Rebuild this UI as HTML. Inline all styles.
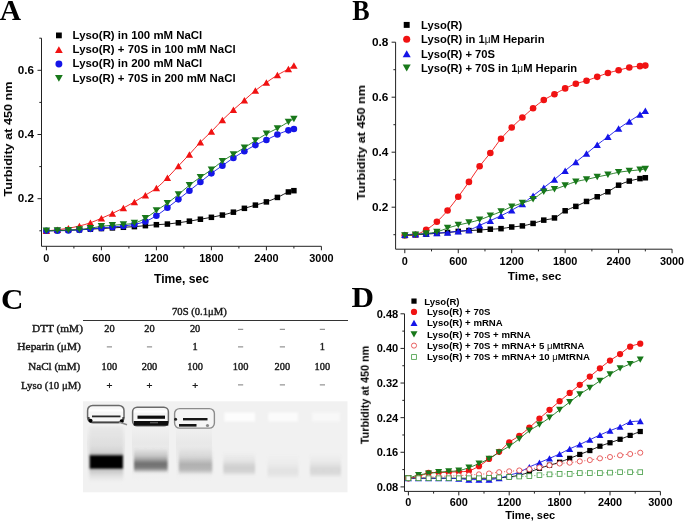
<!DOCTYPE html>
<html><head><meta charset="utf-8"><title>Figure</title>
<style>
html,body{margin:0;padding:0;background:#fff;}
body{width:685px;height:521px;overflow:hidden;font-family:"Liberation Sans", sans-serif;}
svg{display:block;}
text{will-change:transform;}
</style></head><body>
<svg width="685" height="521" viewBox="0 0 685 521">
<rect width="100%" height="100%" fill="#fff"/>
<g stroke="#222" stroke-width="1" fill="none">
<path d="M41.5,38.2V246.3H321.4"/>
<path d="M39.3,230.8H41.5"/>
<path d="M37.5,198.7H41.5"/>
<path d="M39.3,166.6H41.5"/>
<path d="M37.5,134.5H41.5"/>
<path d="M39.3,102.4H41.5"/>
<path d="M37.5,70.3H41.5"/>
<path d="M39.3,38.2H41.5"/>
<path d="M46.4,246.3V250.3"/>
<path d="M73.9,246.3V248.5"/>
<path d="M101.4,246.3V250.3"/>
<path d="M128.9,246.3V248.5"/>
<path d="M156.4,246.3V250.3"/>
<path d="M183.9,246.3V248.5"/>
<path d="M211.4,246.3V250.3"/>
<path d="M238.9,246.3V248.5"/>
<path d="M266.4,246.3V250.3"/>
<path d="M293.9,246.3V248.5"/>
<path d="M321.4,246.3V250.3"/>
</g>
<text x="34.1" y="202.3" font-size="11.7" font-weight="bold" font-family='"Liberation Sans", sans-serif' text-anchor="end" fill="#000" >0.2</text>
<text x="34.1" y="138.1" font-size="11.7" font-weight="bold" font-family='"Liberation Sans", sans-serif' text-anchor="end" fill="#000" >0.4</text>
<text x="34.1" y="73.9" font-size="11.7" font-weight="bold" font-family='"Liberation Sans", sans-serif' text-anchor="end" fill="#000" >0.6</text>
<text x="46.4" y="262.1" font-size="10.9" font-weight="bold" font-family='"Liberation Sans", sans-serif' text-anchor="middle" fill="#000" >0</text>
<text x="101.4" y="262.1" font-size="10.9" font-weight="bold" font-family='"Liberation Sans", sans-serif' text-anchor="middle" fill="#000" >600</text>
<text x="156.4" y="262.1" font-size="10.9" font-weight="bold" font-family='"Liberation Sans", sans-serif' text-anchor="middle" fill="#000" >1200</text>
<text x="211.4" y="262.1" font-size="10.9" font-weight="bold" font-family='"Liberation Sans", sans-serif' text-anchor="middle" fill="#000" >1800</text>
<text x="266.4" y="262.1" font-size="10.9" font-weight="bold" font-family='"Liberation Sans", sans-serif' text-anchor="middle" fill="#000" >2400</text>
<text x="321.4" y="262.1" font-size="10.9" font-weight="bold" font-family='"Liberation Sans", sans-serif' text-anchor="middle" fill="#000" >3000</text>
<text x="181.5" y="282.8" font-size="12.1" font-weight="bold" font-family='"Liberation Sans", sans-serif' text-anchor="middle" fill="#000" >Time, sec</text>
<text x="0" y="0" font-size="11" font-weight="bold" font-family='"Liberation Sans", sans-serif' text-anchor="middle" fill="#000" transform="translate(12.0,139.05) rotate(-90)" textLength="115.2" lengthAdjust="spacingAndGlyphs">Turbidity at 450 nm</text>
<text x="-0.3" y="19.6" font-size="29.5" font-weight="bold" font-family='"Liberation Serif", serif' text-anchor="start" fill="#000" >A</text>
<path d="M46.4,230.8C48.23,230.75 53.73,230.59 57.4,230.48C61.07,230.37 64.73,230.27 68.4,230.16C72.07,230.05 75.73,230 79.4,229.84C83.07,229.68 86.73,229.41 90.4,229.19C94.07,228.98 97.73,228.77 101.4,228.55C105.07,228.34 108.73,228.12 112.4,227.91C116.07,227.7 119.73,227.48 123.4,227.27C127.07,227.06 130.73,226.89 134.4,226.63C138.07,226.36 141.73,225.98 145.4,225.66C149.07,225.34 152.73,224.97 156.4,224.7C160.07,224.43 163.73,224.38 167.4,224.06C171.07,223.74 174.73,223.26 178.4,222.77C182.07,222.29 185.73,221.76 189.4,221.17C193.07,220.58 196.73,219.89 200.4,219.24C204.07,218.6 207.73,218.01 211.4,217.32C215.07,216.62 218.73,215.93 222.4,215.07C226.07,214.21 229.73,213.31 233.4,212.18C237.07,211.06 240.73,209.51 244.4,208.33C248.07,207.15 251.73,206.19 255.4,205.12C259.07,204.05 262.73,203.19 266.4,201.91C270.07,200.63 273.73,199.07 277.4,197.42C281.07,195.76 285.65,193.08 288.4,191.96C291.15,190.84 292.98,190.89 293.9,190.68" fill="none" stroke="#000" stroke-width="0.9"/>
<rect x="43.65" y="228.05" width="5.5" height="5.5" fill="#000"/>
<rect x="54.65" y="227.73" width="5.5" height="5.5" fill="#000"/>
<rect x="65.65" y="227.41" width="5.5" height="5.5" fill="#000"/>
<rect x="76.65" y="227.09" width="5.5" height="5.5" fill="#000"/>
<rect x="87.65" y="226.44" width="5.5" height="5.5" fill="#000"/>
<rect x="98.65" y="225.8" width="5.5" height="5.5" fill="#000"/>
<rect x="109.65" y="225.16" width="5.5" height="5.5" fill="#000"/>
<rect x="120.65" y="224.52" width="5.5" height="5.5" fill="#000"/>
<rect x="131.65" y="223.88" width="5.5" height="5.5" fill="#000"/>
<rect x="142.65" y="222.91" width="5.5" height="5.5" fill="#000"/>
<rect x="153.65" y="221.95" width="5.5" height="5.5" fill="#000"/>
<rect x="164.65" y="221.31" width="5.5" height="5.5" fill="#000"/>
<rect x="175.65" y="220.02" width="5.5" height="5.5" fill="#000"/>
<rect x="186.65" y="218.42" width="5.5" height="5.5" fill="#000"/>
<rect x="197.65" y="216.49" width="5.5" height="5.5" fill="#000"/>
<rect x="208.65" y="214.57" width="5.5" height="5.5" fill="#000"/>
<rect x="219.65" y="212.32" width="5.5" height="5.5" fill="#000"/>
<rect x="230.65" y="209.43" width="5.5" height="5.5" fill="#000"/>
<rect x="241.65" y="205.58" width="5.5" height="5.5" fill="#000"/>
<rect x="252.65" y="202.37" width="5.5" height="5.5" fill="#000"/>
<rect x="263.65" y="199.16" width="5.5" height="5.5" fill="#000"/>
<rect x="274.65" y="194.67" width="5.5" height="5.5" fill="#000"/>
<rect x="285.65" y="189.21" width="5.5" height="5.5" fill="#000"/>
<rect x="291.15" y="187.93" width="5.5" height="5.5" fill="#000"/>
<path d="M46.4,230.8C48.23,230.64 53.73,230.26 57.4,229.84C61.07,229.41 64.73,228.87 68.4,228.23C72.07,227.59 75.73,226.89 79.4,225.99C83.07,225.08 86.73,224.06 90.4,222.77C94.07,221.49 97.73,219.83 101.4,218.28C105.07,216.73 108.73,215.18 112.4,213.47C116.07,211.75 119.73,209.93 123.4,208.01C127.07,206.08 130.73,204.05 134.4,201.91C138.07,199.77 141.73,197.47 145.4,195.17C149.07,192.87 152.73,191 156.4,188.11C160.07,185.22 163.73,181.53 167.4,177.83C171.07,174.14 174.73,169.86 178.4,165.96C182.07,162.05 185.73,158.36 189.4,154.4C193.07,150.44 196.73,146 200.4,142.2C204.07,138.41 207.73,135.3 211.4,131.61C215.07,127.92 218.73,123.69 222.4,120.05C226.07,116.42 229.73,113.1 233.4,109.78C237.07,106.47 240.73,103.36 244.4,100.15C248.07,96.94 251.73,93.47 255.4,90.52C259.07,87.58 262.73,85.07 266.4,82.5C270.07,79.93 273.73,77.36 277.4,75.11C281.07,72.87 285.65,70.62 288.4,69.02C291.15,67.41 292.98,66.07 293.9,65.48" fill="none" stroke="#f01212" stroke-width="0.9"/>
<path d="M46.4,227.55L50.1,234.05L42.7,234.05Z" fill="#f01212"/>
<path d="M57.4,226.59L61.1,233.09L53.7,233.09Z" fill="#f01212"/>
<path d="M68.4,224.98L72.1,231.48L64.7,231.48Z" fill="#f01212"/>
<path d="M79.4,222.74L83.1,229.24L75.7,229.24Z" fill="#f01212"/>
<path d="M90.4,219.52L94.1,226.02L86.7,226.02Z" fill="#f01212"/>
<path d="M101.4,215.03L105.1,221.53L97.7,221.53Z" fill="#f01212"/>
<path d="M112.4,210.22L116.1,216.72L108.7,216.72Z" fill="#f01212"/>
<path d="M123.4,204.76L127.1,211.26L119.7,211.26Z" fill="#f01212"/>
<path d="M134.4,198.66L138.1,205.16L130.7,205.16Z" fill="#f01212"/>
<path d="M145.4,191.92L149.1,198.42L141.7,198.42Z" fill="#f01212"/>
<path d="M156.4,184.86L160.1,191.36L152.7,191.36Z" fill="#f01212"/>
<path d="M167.4,174.58L171.1,181.08L163.7,181.08Z" fill="#f01212"/>
<path d="M178.4,162.71L182.1,169.21L174.7,169.21Z" fill="#f01212"/>
<path d="M189.4,151.15L193.1,157.65L185.7,157.65Z" fill="#f01212"/>
<path d="M200.4,138.95L204.1,145.45L196.7,145.45Z" fill="#f01212"/>
<path d="M211.4,128.36L215.1,134.86L207.7,134.86Z" fill="#f01212"/>
<path d="M222.4,116.8L226.1,123.3L218.7,123.3Z" fill="#f01212"/>
<path d="M233.4,106.53L237.1,113.03L229.7,113.03Z" fill="#f01212"/>
<path d="M244.4,96.9L248.1,103.4L240.7,103.4Z" fill="#f01212"/>
<path d="M255.4,87.27L259.1,93.77L251.7,93.77Z" fill="#f01212"/>
<path d="M266.4,79.25L270.1,85.75L262.7,85.75Z" fill="#f01212"/>
<path d="M277.4,71.86L281.1,78.36L273.7,78.36Z" fill="#f01212"/>
<path d="M288.4,65.77L292.1,72.27L284.7,72.27Z" fill="#f01212"/>
<path d="M293.9,62.23L297.6,68.73L290.2,68.73Z" fill="#f01212"/>
<path d="M46.4,230.8C48.23,230.8 53.73,230.85 57.4,230.8C61.07,230.75 64.73,230.64 68.4,230.48C72.07,230.32 75.73,230.1 79.4,229.84C83.07,229.57 86.73,229.2 90.4,228.87C94.07,228.55 97.73,228.23 101.4,227.91C105.07,227.59 108.73,227.27 112.4,226.95C116.07,226.63 119.73,226.41 123.4,225.99C127.07,225.56 130.73,225.13 134.4,224.38C138.07,223.63 141.73,222.94 145.4,221.49C149.07,220.05 152.73,218.01 156.4,215.71C160.07,213.41 163.73,210.42 167.4,207.69C171.07,204.96 174.73,202.18 178.4,199.34C182.07,196.51 185.73,193.56 189.4,190.68C193.07,187.79 196.73,184.9 200.4,182.01C204.07,179.12 207.73,176.07 211.4,173.34C215.07,170.61 218.73,168.2 222.4,165.64C226.07,163.07 229.73,160.34 233.4,157.93C237.07,155.53 240.73,153.33 244.4,151.19C248.07,149.05 251.73,146.97 255.4,145.09C259.07,143.22 262.73,141.72 266.4,139.96C270.07,138.19 273.73,136.1 277.4,134.5C281.07,132.9 285.65,131.24 288.4,130.33C291.15,129.42 292.98,129.26 293.9,129.04" fill="none" stroke="#1515e8" stroke-width="0.9"/>
<circle cx="46.4" cy="230.8" r="3.3" fill="#1515e8"/>
<circle cx="57.4" cy="230.8" r="3.3" fill="#1515e8"/>
<circle cx="68.4" cy="230.48" r="3.3" fill="#1515e8"/>
<circle cx="79.4" cy="229.84" r="3.3" fill="#1515e8"/>
<circle cx="90.4" cy="228.87" r="3.3" fill="#1515e8"/>
<circle cx="101.4" cy="227.91" r="3.3" fill="#1515e8"/>
<circle cx="112.4" cy="226.95" r="3.3" fill="#1515e8"/>
<circle cx="123.4" cy="225.99" r="3.3" fill="#1515e8"/>
<circle cx="134.4" cy="224.38" r="3.3" fill="#1515e8"/>
<circle cx="145.4" cy="221.49" r="3.3" fill="#1515e8"/>
<circle cx="156.4" cy="215.71" r="3.3" fill="#1515e8"/>
<circle cx="167.4" cy="207.69" r="3.3" fill="#1515e8"/>
<circle cx="178.4" cy="199.34" r="3.3" fill="#1515e8"/>
<circle cx="189.4" cy="190.68" r="3.3" fill="#1515e8"/>
<circle cx="200.4" cy="182.01" r="3.3" fill="#1515e8"/>
<circle cx="211.4" cy="173.34" r="3.3" fill="#1515e8"/>
<circle cx="222.4" cy="165.64" r="3.3" fill="#1515e8"/>
<circle cx="233.4" cy="157.93" r="3.3" fill="#1515e8"/>
<circle cx="244.4" cy="151.19" r="3.3" fill="#1515e8"/>
<circle cx="255.4" cy="145.09" r="3.3" fill="#1515e8"/>
<circle cx="266.4" cy="139.96" r="3.3" fill="#1515e8"/>
<circle cx="277.4" cy="134.5" r="3.3" fill="#1515e8"/>
<circle cx="288.4" cy="130.33" r="3.3" fill="#1515e8"/>
<circle cx="293.9" cy="129.04" r="3.3" fill="#1515e8"/>
<path d="M46.4,230.8C48.23,230.75 53.73,230.59 57.4,230.48C61.07,230.37 64.73,230.32 68.4,230.16C72.07,230 75.73,229.84 79.4,229.52C83.07,229.2 86.73,228.77 90.4,228.23C94.07,227.7 97.73,226.79 101.4,226.31C105.07,225.82 108.73,225.66 112.4,225.34C116.07,225.02 119.73,224.75 123.4,224.38C127.07,224.01 130.73,224.11 134.4,223.1C138.07,222.08 141.73,220.37 145.4,218.28C149.07,216.19 152.73,213.09 156.4,210.58C160.07,208.06 163.73,205.87 167.4,203.19C171.07,200.52 174.73,197.52 178.4,194.53C182.07,191.53 185.73,188.11 189.4,185.22C193.07,182.33 196.73,179.76 200.4,177.19C204.07,174.62 207.73,172.49 211.4,169.81C215.07,167.13 218.73,163.71 222.4,161.14C226.07,158.57 229.73,156.65 233.4,154.4C237.07,152.16 240.73,149.96 244.4,147.66C248.07,145.36 251.73,142.9 255.4,140.6C259.07,138.3 262.73,135.89 266.4,133.86C270.07,131.82 273.73,130.38 277.4,128.4C281.07,126.42 285.65,123.53 288.4,121.98C291.15,120.43 292.98,119.57 293.9,119.09" fill="none" stroke="#18781a" stroke-width="0.9"/>
<path d="M42.7,227.55L50.1,227.55L46.4,234.05Z" fill="#18781a"/>
<path d="M53.7,227.23L61.1,227.23L57.4,233.73Z" fill="#18781a"/>
<path d="M64.7,226.91L72.1,226.91L68.4,233.41Z" fill="#18781a"/>
<path d="M75.7,226.27L83.1,226.27L79.4,232.77Z" fill="#18781a"/>
<path d="M86.7,224.98L94.1,224.98L90.4,231.48Z" fill="#18781a"/>
<path d="M97.7,223.06L105.1,223.06L101.4,229.56Z" fill="#18781a"/>
<path d="M108.7,222.09L116.1,222.09L112.4,228.59Z" fill="#18781a"/>
<path d="M119.7,221.13L127.1,221.13L123.4,227.63Z" fill="#18781a"/>
<path d="M130.7,219.85L138.1,219.85L134.4,226.35Z" fill="#18781a"/>
<path d="M141.7,215.03L149.1,215.03L145.4,221.53Z" fill="#18781a"/>
<path d="M152.7,207.33L160.1,207.33L156.4,213.83Z" fill="#18781a"/>
<path d="M163.7,199.94L171.1,199.94L167.4,206.44Z" fill="#18781a"/>
<path d="M174.7,191.28L182.1,191.28L178.4,197.78Z" fill="#18781a"/>
<path d="M185.7,181.97L193.1,181.97L189.4,188.47Z" fill="#18781a"/>
<path d="M196.7,173.94L204.1,173.94L200.4,180.44Z" fill="#18781a"/>
<path d="M207.7,166.56L215.1,166.56L211.4,173.06Z" fill="#18781a"/>
<path d="M218.7,157.89L226.1,157.89L222.4,164.39Z" fill="#18781a"/>
<path d="M229.7,151.15L237.1,151.15L233.4,157.65Z" fill="#18781a"/>
<path d="M240.7,144.41L248.1,144.41L244.4,150.91Z" fill="#18781a"/>
<path d="M251.7,137.35L259.1,137.35L255.4,143.85Z" fill="#18781a"/>
<path d="M262.7,130.61L270.1,130.61L266.4,137.11Z" fill="#18781a"/>
<path d="M273.7,125.15L281.1,125.15L277.4,131.65Z" fill="#18781a"/>
<path d="M284.7,118.73L292.1,118.73L288.4,125.23Z" fill="#18781a"/>
<path d="M290.2,115.84L297.6,115.84L293.9,122.34Z" fill="#18781a"/>
<rect x="56.01" y="32.51" width="5.78" height="5.78" fill="#000"/>
<text x="72.6" y="38.6" font-size="10.6" font-weight="bold" font-family='"Liberation Sans", sans-serif' text-anchor="start" fill="#000" textLength="129.66" lengthAdjust="spacingAndGlyphs">Lyso(R) in 100 mM NaCl</text>
<path d="M58.9,46.29L62.78,53.11L55.02,53.11Z" fill="#f01212"/>
<text x="72.6" y="52.9" font-size="10.6" font-weight="bold" font-family='"Liberation Sans", sans-serif' text-anchor="start" fill="#000" textLength="162.99" lengthAdjust="spacingAndGlyphs">Lyso(R) + 70S in 100 mM NaCl</text>
<circle cx="58.9" cy="64" r="3.46" fill="#1515e8"/>
<text x="72.6" y="67.2" font-size="10.6" font-weight="bold" font-family='"Liberation Sans", sans-serif' text-anchor="start" fill="#000" textLength="129.66" lengthAdjust="spacingAndGlyphs">Lyso(R) in 200 mM NaCl</text>
<path d="M55.02,74.89L62.78,74.89L58.9,81.71Z" fill="#18781a"/>
<text x="72.6" y="81.5" font-size="10.6" font-weight="bold" font-family='"Liberation Sans", sans-serif' text-anchor="start" fill="#000" textLength="162.99" lengthAdjust="spacingAndGlyphs">Lyso(R) + 70S in 200 mM NaCl</text>
<g stroke="#222" stroke-width="1" fill="none">
<path d="M395.6,42.2V249.2H672.05"/>
<path d="M393.4,234.7H395.6"/>
<path d="M391.6,207.2H395.6"/>
<path d="M393.4,179.7H395.6"/>
<path d="M391.6,152.2H395.6"/>
<path d="M393.4,124.7H395.6"/>
<path d="M391.6,97.2H395.6"/>
<path d="M393.4,69.7H395.6"/>
<path d="M391.6,42.2H395.6"/>
<path d="M404.8,249.2V253.2"/>
<path d="M431.53,249.2V251.4"/>
<path d="M458.25,249.2V253.2"/>
<path d="M484.98,249.2V251.4"/>
<path d="M511.7,249.2V253.2"/>
<path d="M538.42,249.2V251.4"/>
<path d="M565.15,249.2V253.2"/>
<path d="M591.88,249.2V251.4"/>
<path d="M618.6,249.2V253.2"/>
<path d="M645.33,249.2V251.4"/>
<path d="M672.05,249.2V253.2"/>
</g>
<text x="388.3" y="210.7" font-size="11.8" font-weight="bold" font-family='"Liberation Sans", sans-serif' text-anchor="end" fill="#000" >0.2</text>
<text x="388.3" y="155.7" font-size="11.8" font-weight="bold" font-family='"Liberation Sans", sans-serif' text-anchor="end" fill="#000" >0.4</text>
<text x="388.3" y="100.7" font-size="11.8" font-weight="bold" font-family='"Liberation Sans", sans-serif' text-anchor="end" fill="#000" >0.6</text>
<text x="388.3" y="45.7" font-size="11.8" font-weight="bold" font-family='"Liberation Sans", sans-serif' text-anchor="end" fill="#000" >0.8</text>
<text x="404.8" y="264.9" font-size="10.9" font-weight="bold" font-family='"Liberation Sans", sans-serif' text-anchor="middle" fill="#000" >0</text>
<text x="458.25" y="264.9" font-size="10.9" font-weight="bold" font-family='"Liberation Sans", sans-serif' text-anchor="middle" fill="#000" >600</text>
<text x="511.7" y="264.9" font-size="10.9" font-weight="bold" font-family='"Liberation Sans", sans-serif' text-anchor="middle" fill="#000" >1200</text>
<text x="565.15" y="264.9" font-size="10.9" font-weight="bold" font-family='"Liberation Sans", sans-serif' text-anchor="middle" fill="#000" >1800</text>
<text x="618.6" y="264.9" font-size="10.9" font-weight="bold" font-family='"Liberation Sans", sans-serif' text-anchor="middle" fill="#000" >2400</text>
<text x="672.05" y="264.9" font-size="10.9" font-weight="bold" font-family='"Liberation Sans", sans-serif' text-anchor="middle" fill="#000" >3000</text>
<text x="534.6" y="280.2" font-size="11.8" font-weight="bold" font-family='"Liberation Sans", sans-serif' text-anchor="middle" fill="#000" >Time, sec</text>
<text x="0" y="0" font-size="11" font-weight="bold" font-family='"Liberation Sans", sans-serif' text-anchor="middle" fill="#000" transform="translate(365.0,142.5) rotate(-90)" textLength="115" lengthAdjust="spacingAndGlyphs">Turbidity at 450 nm</text>
<text x="0" y="0" font-size="30" font-weight="bold" font-family='"Liberation Serif", serif' text-anchor="start" fill="#000" transform="translate(352.3,19.8) scale(0.87,1)">B</text>
<path d="M404.8,235.53C406.58,235.39 411.93,234.93 415.49,234.7C419.05,234.47 422.62,234.38 426.18,234.15C429.74,233.92 433.31,233.6 436.87,233.33C440.43,233.05 444,232.82 447.56,232.5C451.12,232.18 454.69,231.72 458.25,231.4C461.81,231.08 465.38,230.8 468.94,230.58C472.5,230.35 476.07,230.25 479.63,230.03C483.19,229.8 486.76,229.43 490.32,229.2C493.88,228.97 497.45,229.02 501.01,228.65C504.57,228.28 508.14,227.46 511.7,227C515.26,226.54 518.83,226.5 522.39,225.9C525.95,225.3 529.52,224.39 533.08,223.43C536.64,222.46 540.21,221.04 543.77,220.12C547.33,219.21 550.9,219.48 554.46,217.93C558.02,216.37 561.59,212.7 565.15,210.77C568.71,208.85 572.28,207.93 575.84,206.38C579.4,204.82 582.97,203.03 586.53,201.43C590.09,199.82 593.66,198.35 597.22,196.75C600.78,195.15 604.35,193.73 607.91,191.8C611.47,189.88 615.04,186.99 618.6,185.2C622.16,183.41 625.73,182.18 629.29,181.08C632.85,179.98 637.31,179.15 639.98,178.6C642.65,178.05 644.43,177.91 645.33,177.78" fill="none" stroke="#000" stroke-width="0.9"/>
<rect x="402.05" y="232.78" width="5.5" height="5.5" fill="#000"/>
<rect x="412.74" y="231.95" width="5.5" height="5.5" fill="#000"/>
<rect x="423.43" y="231.4" width="5.5" height="5.5" fill="#000"/>
<rect x="434.12" y="230.58" width="5.5" height="5.5" fill="#000"/>
<rect x="444.81" y="229.75" width="5.5" height="5.5" fill="#000"/>
<rect x="455.5" y="228.65" width="5.5" height="5.5" fill="#000"/>
<rect x="466.19" y="227.83" width="5.5" height="5.5" fill="#000"/>
<rect x="476.88" y="227.28" width="5.5" height="5.5" fill="#000"/>
<rect x="487.57" y="226.45" width="5.5" height="5.5" fill="#000"/>
<rect x="498.26" y="225.9" width="5.5" height="5.5" fill="#000"/>
<rect x="508.95" y="224.25" width="5.5" height="5.5" fill="#000"/>
<rect x="519.64" y="223.15" width="5.5" height="5.5" fill="#000"/>
<rect x="530.33" y="220.68" width="5.5" height="5.5" fill="#000"/>
<rect x="541.02" y="217.38" width="5.5" height="5.5" fill="#000"/>
<rect x="551.71" y="215.18" width="5.5" height="5.5" fill="#000"/>
<rect x="562.4" y="208.02" width="5.5" height="5.5" fill="#000"/>
<rect x="573.09" y="203.62" width="5.5" height="5.5" fill="#000"/>
<rect x="583.78" y="198.68" width="5.5" height="5.5" fill="#000"/>
<rect x="594.47" y="194" width="5.5" height="5.5" fill="#000"/>
<rect x="605.16" y="189.05" width="5.5" height="5.5" fill="#000"/>
<rect x="615.85" y="182.45" width="5.5" height="5.5" fill="#000"/>
<rect x="626.54" y="178.33" width="5.5" height="5.5" fill="#000"/>
<rect x="637.23" y="175.85" width="5.5" height="5.5" fill="#000"/>
<rect x="642.58" y="175.03" width="5.5" height="5.5" fill="#000"/>
<path d="M404.8,235.25C406.58,235.16 411.93,235.62 415.49,234.7C419.05,233.78 422.62,231.9 426.18,229.75C429.74,227.6 433.31,224.98 436.87,221.78C440.43,218.57 444,214.67 447.56,210.5C451.12,206.33 454.69,201.52 458.25,196.75C461.81,191.98 465.38,186.99 468.94,181.9C472.5,176.81 476.07,171.04 479.63,166.23C483.19,161.41 486.76,157.61 490.32,153.03C493.88,148.44 497.45,142.99 501.01,138.73C504.57,134.46 508.14,130.98 511.7,127.45C515.26,123.92 518.83,120.76 522.39,117.55C525.95,114.34 529.52,111.13 533.08,108.2C536.64,105.27 540.21,102.29 543.77,99.95C547.33,97.61 550.9,96.1 554.46,94.18C558.02,92.25 561.59,90.14 565.15,88.4C568.71,86.66 572.28,85.01 575.84,83.73C579.4,82.44 582.97,81.85 586.53,80.7C590.09,79.55 593.66,78.13 597.22,76.85C600.78,75.57 604.35,74.1 607.91,73C611.47,71.9 615.04,71.17 618.6,70.25C622.16,69.33 625.73,68.19 629.29,67.5C632.85,66.81 637.31,66.45 639.98,66.13C642.65,65.8 644.43,65.67 645.33,65.58" fill="none" stroke="#f01212" stroke-width="0.9"/>
<circle cx="404.8" cy="235.25" r="3.3" fill="#f01212"/>
<circle cx="415.49" cy="234.7" r="3.3" fill="#f01212"/>
<circle cx="426.18" cy="229.75" r="3.3" fill="#f01212"/>
<circle cx="436.87" cy="221.78" r="3.3" fill="#f01212"/>
<circle cx="447.56" cy="210.5" r="3.3" fill="#f01212"/>
<circle cx="458.25" cy="196.75" r="3.3" fill="#f01212"/>
<circle cx="468.94" cy="181.9" r="3.3" fill="#f01212"/>
<circle cx="479.63" cy="166.23" r="3.3" fill="#f01212"/>
<circle cx="490.32" cy="153.03" r="3.3" fill="#f01212"/>
<circle cx="501.01" cy="138.73" r="3.3" fill="#f01212"/>
<circle cx="511.7" cy="127.45" r="3.3" fill="#f01212"/>
<circle cx="522.39" cy="117.55" r="3.3" fill="#f01212"/>
<circle cx="533.08" cy="108.2" r="3.3" fill="#f01212"/>
<circle cx="543.77" cy="99.95" r="3.3" fill="#f01212"/>
<circle cx="554.46" cy="94.18" r="3.3" fill="#f01212"/>
<circle cx="565.15" cy="88.4" r="3.3" fill="#f01212"/>
<circle cx="575.84" cy="83.73" r="3.3" fill="#f01212"/>
<circle cx="586.53" cy="80.7" r="3.3" fill="#f01212"/>
<circle cx="597.22" cy="76.85" r="3.3" fill="#f01212"/>
<circle cx="607.91" cy="73" r="3.3" fill="#f01212"/>
<circle cx="618.6" cy="70.25" r="3.3" fill="#f01212"/>
<circle cx="629.29" cy="67.5" r="3.3" fill="#f01212"/>
<circle cx="639.98" cy="66.13" r="3.3" fill="#f01212"/>
<circle cx="645.33" cy="65.58" r="3.3" fill="#f01212"/>
<path d="M404.8,234.7C406.58,234.61 411.93,234.33 415.49,234.15C419.05,233.97 422.62,233.78 426.18,233.6C429.74,233.42 433.31,233.23 436.87,233.05C440.43,232.87 444,232.82 447.56,232.5C451.12,232.18 454.69,231.54 458.25,231.12C461.81,230.71 465.38,230.99 468.94,230.03C472.5,229.06 476.07,226.91 479.63,225.35C483.19,223.79 486.76,222.28 490.32,220.68C493.88,219.07 497.45,217.47 501.01,215.73C504.57,213.98 508.14,212.2 511.7,210.23C515.26,208.25 518.83,206.33 522.39,203.9C525.95,201.47 529.52,198.35 533.08,195.65C536.64,192.95 540.21,190.38 543.77,187.68C547.33,184.97 550.9,182.27 554.46,179.43C558.02,176.58 561.59,173.51 565.15,170.62C568.71,167.74 572.28,164.94 575.84,162.1C579.4,159.26 582.97,156.46 586.53,153.58C590.09,150.69 593.66,147.57 597.22,144.78C600.78,141.98 604.35,139.5 607.91,136.8C611.47,134.1 615.04,131.12 618.6,128.55C622.16,125.98 625.73,123.74 629.29,121.4C632.85,119.06 637.31,116.31 639.98,114.53C642.65,112.74 644.43,111.32 645.33,110.67" fill="none" stroke="#1515e8" stroke-width="0.9"/>
<path d="M404.8,231.45L408.5,237.95L401.1,237.95Z" fill="#1515e8"/>
<path d="M415.49,230.9L419.19,237.4L411.79,237.4Z" fill="#1515e8"/>
<path d="M426.18,230.35L429.88,236.85L422.48,236.85Z" fill="#1515e8"/>
<path d="M436.87,229.8L440.57,236.3L433.17,236.3Z" fill="#1515e8"/>
<path d="M447.56,229.25L451.26,235.75L443.86,235.75Z" fill="#1515e8"/>
<path d="M458.25,227.88L461.95,234.38L454.55,234.38Z" fill="#1515e8"/>
<path d="M468.94,226.78L472.64,233.28L465.24,233.28Z" fill="#1515e8"/>
<path d="M479.63,222.1L483.33,228.6L475.93,228.6Z" fill="#1515e8"/>
<path d="M490.32,217.43L494.02,223.93L486.62,223.93Z" fill="#1515e8"/>
<path d="M501.01,212.48L504.71,218.98L497.31,218.98Z" fill="#1515e8"/>
<path d="M511.7,206.98L515.4,213.48L508,213.48Z" fill="#1515e8"/>
<path d="M522.39,200.65L526.09,207.15L518.69,207.15Z" fill="#1515e8"/>
<path d="M533.08,192.4L536.78,198.9L529.38,198.9Z" fill="#1515e8"/>
<path d="M543.77,184.43L547.47,190.93L540.07,190.93Z" fill="#1515e8"/>
<path d="M554.46,176.18L558.16,182.68L550.76,182.68Z" fill="#1515e8"/>
<path d="M565.15,167.38L568.85,173.88L561.45,173.88Z" fill="#1515e8"/>
<path d="M575.84,158.85L579.54,165.35L572.14,165.35Z" fill="#1515e8"/>
<path d="M586.53,150.33L590.23,156.83L582.83,156.83Z" fill="#1515e8"/>
<path d="M597.22,141.53L600.92,148.03L593.52,148.03Z" fill="#1515e8"/>
<path d="M607.91,133.55L611.61,140.05L604.21,140.05Z" fill="#1515e8"/>
<path d="M618.6,125.3L622.3,131.8L614.9,131.8Z" fill="#1515e8"/>
<path d="M629.29,118.15L632.99,124.65L625.59,124.65Z" fill="#1515e8"/>
<path d="M639.98,111.28L643.68,117.78L636.28,117.78Z" fill="#1515e8"/>
<path d="M645.33,107.42L649.03,113.92L641.62,113.92Z" fill="#1515e8"/>
<path d="M404.8,235.53C406.58,235.39 411.93,235.02 415.49,234.7C419.05,234.38 422.62,234.06 426.18,233.6C429.74,233.14 433.31,232.87 436.87,231.95C440.43,231.03 444,229.25 447.56,228.1C451.12,226.95 454.69,225.99 458.25,225.07C461.81,224.16 465.38,223.47 468.94,222.6C472.5,221.73 476.07,221 479.63,219.85C483.19,218.7 486.76,217.1 490.32,215.73C493.88,214.35 497.45,213.11 501.01,211.6C504.57,210.09 508.14,208.07 511.7,206.65C515.26,205.23 518.83,204.31 522.39,203.08C525.95,201.84 529.52,201.1 533.08,199.23C536.64,197.35 540.21,193.45 543.77,191.8C547.33,190.15 550.9,190.38 554.46,189.32C558.02,188.27 561.59,186.76 565.15,185.48C568.71,184.19 572.28,182.63 575.84,181.63C579.4,180.62 582.97,180.2 586.53,179.43C590.09,178.65 593.66,177.73 597.22,176.95C600.78,176.17 604.35,175.53 607.91,174.75C611.47,173.97 615.04,172.92 618.6,172.28C622.16,171.63 625.73,171.31 629.29,170.9C632.85,170.49 637.31,170.12 639.98,169.8C642.65,169.48 644.43,169.11 645.33,168.98" fill="none" stroke="#18781a" stroke-width="0.9"/>
<path d="M401.1,232.28L408.5,232.28L404.8,238.78Z" fill="#18781a"/>
<path d="M411.79,231.45L419.19,231.45L415.49,237.95Z" fill="#18781a"/>
<path d="M422.48,230.35L429.88,230.35L426.18,236.85Z" fill="#18781a"/>
<path d="M433.17,228.7L440.57,228.7L436.87,235.2Z" fill="#18781a"/>
<path d="M443.86,224.85L451.26,224.85L447.56,231.35Z" fill="#18781a"/>
<path d="M454.55,221.82L461.95,221.82L458.25,228.32Z" fill="#18781a"/>
<path d="M465.24,219.35L472.64,219.35L468.94,225.85Z" fill="#18781a"/>
<path d="M475.93,216.6L483.33,216.6L479.63,223.1Z" fill="#18781a"/>
<path d="M486.62,212.48L494.02,212.48L490.32,218.98Z" fill="#18781a"/>
<path d="M497.31,208.35L504.71,208.35L501.01,214.85Z" fill="#18781a"/>
<path d="M508,203.4L515.4,203.4L511.7,209.9Z" fill="#18781a"/>
<path d="M518.69,199.83L526.09,199.83L522.39,206.33Z" fill="#18781a"/>
<path d="M529.38,195.98L536.78,195.98L533.08,202.48Z" fill="#18781a"/>
<path d="M540.07,188.55L547.47,188.55L543.77,195.05Z" fill="#18781a"/>
<path d="M550.76,186.07L558.16,186.07L554.46,192.57Z" fill="#18781a"/>
<path d="M561.45,182.23L568.85,182.23L565.15,188.73Z" fill="#18781a"/>
<path d="M572.14,178.38L579.54,178.38L575.84,184.88Z" fill="#18781a"/>
<path d="M582.83,176.18L590.23,176.18L586.53,182.68Z" fill="#18781a"/>
<path d="M593.52,173.7L600.92,173.7L597.22,180.2Z" fill="#18781a"/>
<path d="M604.21,171.5L611.61,171.5L607.91,178Z" fill="#18781a"/>
<path d="M614.9,169.03L622.3,169.03L618.6,175.53Z" fill="#18781a"/>
<path d="M625.59,167.65L632.99,167.65L629.29,174.15Z" fill="#18781a"/>
<path d="M636.28,166.55L643.68,166.55L639.98,173.05Z" fill="#18781a"/>
<path d="M641.62,165.73L649.03,165.73L645.33,172.23Z" fill="#18781a"/>
<rect x="403.73" y="21.93" width="5.94" height="5.94" fill="#000"/>
<text x="421.1" y="28.7" font-size="11.2" font-weight="bold" font-family='"Liberation Sans", sans-serif' text-anchor="start" fill="#000" >Lyso(R)</text>
<circle cx="406.7" cy="39.3" r="3.56" fill="#f01212"/>
<text x="421.1" y="43.1" font-size="11.2" font-weight="bold" font-family='"Liberation Sans", sans-serif' text-anchor="start" fill="#000" >Lyso(R) in 1<tspan font-weight="normal" font-size="10">&#956;</tspan>M Heparin</text>
<path d="M406.7,50.19L410.7,57.21L402.7,57.21Z" fill="#1515e8"/>
<text x="421.1" y="57.5" font-size="11.2" font-weight="bold" font-family='"Liberation Sans", sans-serif' text-anchor="start" fill="#000" >Lyso(R) + 70S</text>
<path d="M402.7,64.59L410.7,64.59L406.7,71.61Z" fill="#18781a"/>
<text x="421.1" y="71.9" font-size="11.2" font-weight="bold" font-family='"Liberation Sans", sans-serif' text-anchor="start" fill="#000" >Lyso(R) + 70S in 1<tspan font-weight="normal" font-size="10">&#956;</tspan>M Heparin</text>
<text x="0" y="0" font-size="30.2" font-weight="bold" font-family='"Liberation Serif", serif' text-anchor="start" fill="#000" transform="translate(1.0,309) scale(1.03,1)">C</text>
<path d="M83,320.5H348" stroke="#333" stroke-width="1" fill="none"/>
<text x="172" y="314.8" font-size="10.4" font-weight="normal" font-family='"Liberation Serif", serif' text-anchor="start" fill="#1a1a1a" stroke="#1a1a1a" stroke-width="0.42" textLength="54.8" lengthAdjust="spacingAndGlyphs">70S (0.1&#956;M)</text>
<text x="82.9" y="331.9" font-size="10.6" font-weight="normal" font-family='"Liberation Serif", serif' text-anchor="end" fill="#1a1a1a" stroke="#1a1a1a" stroke-width="0.42" textLength="50.8" lengthAdjust="spacingAndGlyphs">DTT (mM)</text>
<text x="80.9" y="349.6" font-size="10.6" font-weight="normal" font-family='"Liberation Serif", serif' text-anchor="end" fill="#1a1a1a" stroke="#1a1a1a" stroke-width="0.42" textLength="63.6" lengthAdjust="spacingAndGlyphs">Heparin (&#956;M)</text>
<text x="80.3" y="369.8" font-size="10.6" font-weight="normal" font-family='"Liberation Serif", serif' text-anchor="end" fill="#1a1a1a" stroke="#1a1a1a" stroke-width="0.42" textLength="52.1" lengthAdjust="spacingAndGlyphs">NaCl (mM)</text>
<text x="80.9" y="388.6" font-size="10.6" font-weight="normal" font-family='"Liberation Serif", serif' text-anchor="end" fill="#1a1a1a" stroke="#1a1a1a" stroke-width="0.42" textLength="59.8" lengthAdjust="spacingAndGlyphs">Lyso (10 &#956;M)</text>
<text x="109.4" y="332.2" font-size="10.4" font-weight="normal" font-family='"Liberation Serif", serif' text-anchor="middle" fill="#1a1a1a" stroke="#1a1a1a" stroke-width="0.42">20</text>
<text x="149.5" y="332.2" font-size="10.4" font-weight="normal" font-family='"Liberation Serif", serif' text-anchor="middle" fill="#1a1a1a" stroke="#1a1a1a" stroke-width="0.42">20</text>
<text x="195.1" y="332.2" font-size="10.4" font-weight="normal" font-family='"Liberation Serif", serif' text-anchor="middle" fill="#1a1a1a" stroke="#1a1a1a" stroke-width="0.42">20</text>
<path d="M238,329.3H243.2" stroke="#7c7c7c" stroke-width="1.0"/>
<path d="M279.8,329.3H285" stroke="#7c7c7c" stroke-width="1.0"/>
<path d="M319.8,329.3H325" stroke="#7c7c7c" stroke-width="1.0"/>
<path d="M106.8,346.9H112" stroke="#7c7c7c" stroke-width="1.0"/>
<path d="M146.9,346.9H152.1" stroke="#7c7c7c" stroke-width="1.0"/>
<text x="195.1" y="349.7" font-size="10.4" font-weight="normal" font-family='"Liberation Serif", serif' text-anchor="middle" fill="#1a1a1a" stroke="#1a1a1a" stroke-width="0.42">1</text>
<path d="M238,346.9H243.2" stroke="#7c7c7c" stroke-width="1.0"/>
<path d="M279.8,346.9H285" stroke="#7c7c7c" stroke-width="1.0"/>
<text x="322.4" y="349.7" font-size="10.4" font-weight="normal" font-family='"Liberation Serif", serif' text-anchor="middle" fill="#1a1a1a" stroke="#1a1a1a" stroke-width="0.42">1</text>
<text x="109.4" y="370.1" font-size="10.4" font-weight="normal" font-family='"Liberation Serif", serif' text-anchor="middle" fill="#1a1a1a" stroke="#1a1a1a" stroke-width="0.42">100</text>
<text x="149.5" y="370.1" font-size="10.4" font-weight="normal" font-family='"Liberation Serif", serif' text-anchor="middle" fill="#1a1a1a" stroke="#1a1a1a" stroke-width="0.42">200</text>
<text x="195.1" y="370.1" font-size="10.4" font-weight="normal" font-family='"Liberation Serif", serif' text-anchor="middle" fill="#1a1a1a" stroke="#1a1a1a" stroke-width="0.42">100</text>
<text x="240.6" y="370.1" font-size="10.4" font-weight="normal" font-family='"Liberation Serif", serif' text-anchor="middle" fill="#1a1a1a" stroke="#1a1a1a" stroke-width="0.42">100</text>
<text x="282.4" y="370.1" font-size="10.4" font-weight="normal" font-family='"Liberation Serif", serif' text-anchor="middle" fill="#1a1a1a" stroke="#1a1a1a" stroke-width="0.42">200</text>
<text x="322.4" y="370.1" font-size="10.4" font-weight="normal" font-family='"Liberation Serif", serif' text-anchor="middle" fill="#1a1a1a" stroke="#1a1a1a" stroke-width="0.42">100</text>
<text x="109.4" y="388.8" font-size="10.4" font-weight="normal" font-family='"Liberation Serif", serif' text-anchor="middle" fill="#1a1a1a" stroke="#1a1a1a" stroke-width="0.42">+</text>
<text x="149.5" y="388.8" font-size="10.4" font-weight="normal" font-family='"Liberation Serif", serif' text-anchor="middle" fill="#1a1a1a" stroke="#1a1a1a" stroke-width="0.42">+</text>
<text x="195.1" y="388.8" font-size="10.4" font-weight="normal" font-family='"Liberation Serif", serif' text-anchor="middle" fill="#1a1a1a" stroke="#1a1a1a" stroke-width="0.42">+</text>
<path d="M238,384.9H243.2" stroke="#7c7c7c" stroke-width="1.0"/>
<path d="M279.8,384.9H285" stroke="#7c7c7c" stroke-width="1.0"/>
<path d="M319.8,384.9H325" stroke="#7c7c7c" stroke-width="1.0"/>
<defs><filter id="b1" x="-30%" y="-30%" width="160%" height="160%"><feGaussianBlur stdDeviation="0.9"/></filter><filter id="b2" x="-30%" y="-50%" width="160%" height="200%"><feGaussianBlur stdDeviation="1.2"/></filter><filter id="b0" x="-20%" y="-20%" width="140%" height="140%"><feGaussianBlur stdDeviation="0.55"/></filter><linearGradient id="s1" x1="0" y1="0" x2="0" y2="1"><stop offset="0" stop-color="#d0d0d0" stop-opacity="0.25"/><stop offset="0.6" stop-color="#d0d0d0" stop-opacity="0.35"/><stop offset="0.9" stop-color="#b8b8b8" stop-opacity="0.5"/><stop offset="1" stop-color="#808080" stop-opacity="0.8"/></linearGradient><linearGradient id="u1" x1="0" y1="0" x2="0" y2="1"><stop offset="0" stop-color="#b8b8b8" stop-opacity="0.9"/><stop offset="0.5" stop-color="#d0d0d0" stop-opacity="0.5"/><stop offset="1" stop-color="#e0e0e0" stop-opacity="0"/></linearGradient><linearGradient id="g2" x1="0" y1="0" x2="0" y2="1"><stop offset="0" stop-color="#5a5a5a" stop-opacity="0"/><stop offset="0.35" stop-color="#5a5a5a" stop-opacity="0.2975"/><stop offset="0.62" stop-color="#5a5a5a" stop-opacity="0.85"/><stop offset="0.8" stop-color="#5a5a5a" stop-opacity="0.765"/><stop offset="1" stop-color="#5a5a5a" stop-opacity="0"/></linearGradient><linearGradient id="g3" x1="0" y1="0" x2="0" y2="1"><stop offset="0" stop-color="#8a8a8a" stop-opacity="0"/><stop offset="0.35" stop-color="#8a8a8a" stop-opacity="0.217"/><stop offset="0.62" stop-color="#8a8a8a" stop-opacity="0.62"/><stop offset="0.8" stop-color="#8a8a8a" stop-opacity="0.558"/><stop offset="1" stop-color="#8a8a8a" stop-opacity="0"/></linearGradient><linearGradient id="g4" x1="0" y1="0" x2="0" y2="1"><stop offset="0" stop-color="#a0a0a0" stop-opacity="0"/><stop offset="0.35" stop-color="#a0a0a0" stop-opacity="0.147"/><stop offset="0.62" stop-color="#a0a0a0" stop-opacity="0.42"/><stop offset="0.8" stop-color="#a0a0a0" stop-opacity="0.378"/><stop offset="1" stop-color="#a0a0a0" stop-opacity="0"/></linearGradient><linearGradient id="g5" x1="0" y1="0" x2="0" y2="1"><stop offset="0" stop-color="#b0b0b0" stop-opacity="0"/><stop offset="0.35" stop-color="#b0b0b0" stop-opacity="0.077"/><stop offset="0.62" stop-color="#b0b0b0" stop-opacity="0.22"/><stop offset="0.8" stop-color="#b0b0b0" stop-opacity="0.198"/><stop offset="1" stop-color="#b0b0b0" stop-opacity="0"/></linearGradient><linearGradient id="g6" x1="0" y1="0" x2="0" y2="1"><stop offset="0" stop-color="#a8a8a8" stop-opacity="0"/><stop offset="0.35" stop-color="#a8a8a8" stop-opacity="0.12249999999999998"/><stop offset="0.62" stop-color="#a8a8a8" stop-opacity="0.35"/><stop offset="0.8" stop-color="#a8a8a8" stop-opacity="0.315"/><stop offset="1" stop-color="#a8a8a8" stop-opacity="0"/></linearGradient><linearGradient id="lane" x1="0" y1="0" x2="0" y2="1"><stop offset="0" stop-color="#d8d8d8" stop-opacity="0.0"/><stop offset="0.3" stop-color="#d8d8d8" stop-opacity="0.35"/><stop offset="1" stop-color="#d8d8d8" stop-opacity="0.0"/></linearGradient></defs>
<rect x="83" y="401.3" width="264.5" height="91" fill="#f1f1f1"/>
<rect x="87" y="426" width="38" height="55" fill="url(#lane)"/>
<rect x="132" y="426" width="37" height="55" fill="url(#lane)"/>
<rect x="176" y="426" width="36" height="55" fill="url(#lane)"/>
<g filter="url(#b2)">
<rect x="89.5" y="426" width="33.6" height="29.5" fill="url(#s1)"/>
<rect x="89.5" y="469" width="33.6" height="14" fill="url(#u1)"/>
</g>
<rect x="89.6" y="455.2" width="33.4" height="13.6" fill="#050505" filter="url(#b1)"/>
<g filter="url(#b1)">
<rect x="134" y="448" width="33.6" height="25" fill="url(#g2)"/>
<rect x="178.8" y="447" width="33.5" height="28" fill="url(#g3)"/>
<rect x="223.3" y="452" width="31.8" height="24" fill="url(#g4)"/>
<rect x="267.5" y="455" width="31" height="24" fill="url(#g5)"/>
<rect x="310" y="454" width="31" height="24" fill="url(#g6)"/>
</g>
<g filter="url(#b0)">
<rect x="87.6" y="405.4" width="36.4" height="17.2" rx="5" fill="#f7f7f7" stroke="#6a6a6a" stroke-width="1.5"/>
<path d="M89,410.5H123" stroke="#fff" stroke-width="2"/>
<path d="M92,416.4H120.5" stroke="#2a2a2a" stroke-width="1.8"/>
<path d="M88.6,417 Q88.6,422.4 93,422.4 H118 Q123.4,422.4 123.4,417" stroke="#444" stroke-width="1.9" fill="none"/>
<circle cx="90.6" cy="420.6" r="1.9" fill="#000"/>
<circle cx="121.6" cy="421.3" r="2.0" fill="#000"/>
<path d="M119,422 L127,424.8" stroke="#8a8a8a" stroke-width="1.5"/>
<rect x="132.6" y="407.3" width="35.8" height="18.5" rx="4.5" fill="#f6f6f6" stroke="#6a6a6a" stroke-width="1.5"/>
<path d="M134,411.5H167" stroke="#fff" stroke-width="2"/>
<rect x="137.5" y="415.6" width="27.5" height="3.2" fill="#111"/>
<rect x="133.8" y="421.0" width="34.5" height="4.6" fill="#0a0a0a"/>
<rect x="150" y="421.8" width="8" height="1.6" fill="#555"/>
<rect x="174.6" y="408.6" width="39.8" height="19.5" rx="5" fill="#f5f5f5" stroke="#8c8c8c" stroke-width="1.4"/>
<rect x="183" y="418.0" width="24.5" height="2.4" fill="#151515"/>
<rect x="179" y="424.0" width="17.5" height="2.6" fill="#151515"/>
<circle cx="175.6" cy="419.3" r="1.5" fill="#222"/>
<circle cx="207.5" cy="425.5" r="1.6" fill="#888"/>
</g>
<g filter="url(#b1)">
<rect x="224.3" y="412.5" width="30.7" height="9" fill="#fdfdfd"/>
<rect x="268.2" y="412.5" width="29.7" height="9" fill="#fbfbfb"/>
<rect x="312.2" y="412.5" width="27.6" height="9" fill="#f8f8f8"/>
</g>
<g stroke="#222" stroke-width="1" fill="none">
<path d="M404.5,313.8V491.4H660.4"/>
<path d="M400.5,486.9H404.5"/>
<path d="M402.3,469.59H404.5"/>
<path d="M400.5,452.28H404.5"/>
<path d="M402.3,434.97H404.5"/>
<path d="M400.5,417.66H404.5"/>
<path d="M402.3,400.35H404.5"/>
<path d="M400.5,383.04H404.5"/>
<path d="M402.3,365.73H404.5"/>
<path d="M400.5,348.42H404.5"/>
<path d="M402.3,331.11H404.5"/>
<path d="M400.5,313.8H404.5"/>
<path d="M408.4,491.4V495.4"/>
<path d="M433.6,491.4V493.6"/>
<path d="M458.8,491.4V495.4"/>
<path d="M484,491.4V493.6"/>
<path d="M509.2,491.4V495.4"/>
<path d="M534.4,491.4V493.6"/>
<path d="M559.6,491.4V495.4"/>
<path d="M584.8,491.4V493.6"/>
<path d="M610,491.4V495.4"/>
<path d="M635.2,491.4V493.6"/>
<path d="M660.4,491.4V495.4"/>
</g>
<text x="398.3" y="490.9" font-size="11.1" font-weight="bold" font-family='"Liberation Sans", sans-serif' text-anchor="end" fill="#000" >0.08</text>
<text x="398.3" y="456.28" font-size="11.1" font-weight="bold" font-family='"Liberation Sans", sans-serif' text-anchor="end" fill="#000" >0.16</text>
<text x="398.3" y="421.66" font-size="11.1" font-weight="bold" font-family='"Liberation Sans", sans-serif' text-anchor="end" fill="#000" >0.24</text>
<text x="398.3" y="387.04" font-size="11.1" font-weight="bold" font-family='"Liberation Sans", sans-serif' text-anchor="end" fill="#000" >0.32</text>
<text x="398.3" y="352.42" font-size="11.1" font-weight="bold" font-family='"Liberation Sans", sans-serif' text-anchor="end" fill="#000" >0.40</text>
<text x="398.3" y="317.8" font-size="11.1" font-weight="bold" font-family='"Liberation Sans", sans-serif' text-anchor="end" fill="#000" >0.48</text>
<text x="408.4" y="505.5" font-size="10.9" font-weight="bold" font-family='"Liberation Sans", sans-serif' text-anchor="middle" fill="#000" >0</text>
<text x="458.8" y="505.5" font-size="10.9" font-weight="bold" font-family='"Liberation Sans", sans-serif' text-anchor="middle" fill="#000" >600</text>
<text x="509.2" y="505.5" font-size="10.9" font-weight="bold" font-family='"Liberation Sans", sans-serif' text-anchor="middle" fill="#000" >1200</text>
<text x="559.6" y="505.5" font-size="10.9" font-weight="bold" font-family='"Liberation Sans", sans-serif' text-anchor="middle" fill="#000" >1800</text>
<text x="610" y="505.5" font-size="10.9" font-weight="bold" font-family='"Liberation Sans", sans-serif' text-anchor="middle" fill="#000" >2400</text>
<text x="660.4" y="505.5" font-size="10.9" font-weight="bold" font-family='"Liberation Sans", sans-serif' text-anchor="middle" fill="#000" >3000</text>
<text x="530.2" y="518.8" font-size="11" font-weight="bold" font-family='"Liberation Sans", sans-serif' text-anchor="middle" fill="#000" >Time, sec</text>
<text x="0" y="0" font-size="10.2" font-weight="bold" font-family='"Liberation Sans", sans-serif' text-anchor="middle" fill="#000" transform="translate(368.7,394.9) rotate(-90)" textLength="98.5" lengthAdjust="spacingAndGlyphs">Turbidity at 450 nm</text>
<text x="0" y="0" font-size="29.2" font-weight="bold" font-family='"Liberation Serif", serif' text-anchor="start" fill="#000" transform="translate(351.6,306.9) scale(1.065,1)">D</text>
<path d="M408.4,478.25C410.08,478.25 415.12,478.25 418.48,478.25C421.84,478.25 425.2,478.25 428.56,478.25C431.92,478.25 435.28,478.25 438.64,478.25C442,478.25 445.36,478.25 448.72,478.25C452.08,478.25 455.44,478.25 458.8,478.25C462.16,478.25 465.52,478.25 468.88,478.25C472.24,478.25 475.6,478.25 478.96,478.25C482.32,478.25 485.68,478.32 489.04,478.25C492.4,478.17 495.76,478.03 499.12,477.81C502.48,477.6 505.84,477.38 509.2,476.95C512.56,476.51 515.92,476.01 519.28,475.22C522.64,474.42 526,473.34 529.36,472.19C532.72,471.03 536.08,469.45 539.44,468.29C542.8,467.14 546.16,466.27 549.52,465.26C552.88,464.25 556.24,463.39 559.6,462.23C562.96,461.08 566.32,459.64 569.68,458.34C573.04,457.04 576.4,455.74 579.76,454.44C583.12,453.15 586.48,451.92 589.84,450.55C593.2,449.18 596.56,447.52 599.92,446.22C603.28,444.92 606.64,443.91 610,442.76C613.36,441.61 616.72,440.52 620.08,439.3C623.44,438.07 626.8,436.7 630.16,435.4C633.52,434.1 638.56,432.16 640.24,431.51" fill="none" stroke="#000" stroke-width="0.9"/>
<rect x="405.79" y="475.63" width="5.22" height="5.22" fill="#000"/>
<rect x="415.87" y="475.63" width="5.22" height="5.22" fill="#000"/>
<rect x="425.95" y="475.63" width="5.22" height="5.22" fill="#000"/>
<rect x="436.03" y="475.63" width="5.22" height="5.22" fill="#000"/>
<rect x="446.11" y="475.63" width="5.22" height="5.22" fill="#000"/>
<rect x="456.19" y="475.63" width="5.22" height="5.22" fill="#000"/>
<rect x="466.27" y="475.63" width="5.22" height="5.22" fill="#000"/>
<rect x="476.35" y="475.63" width="5.22" height="5.22" fill="#000"/>
<rect x="486.43" y="475.63" width="5.22" height="5.22" fill="#000"/>
<rect x="496.51" y="475.2" width="5.22" height="5.22" fill="#000"/>
<rect x="506.59" y="474.33" width="5.22" height="5.22" fill="#000"/>
<rect x="516.67" y="472.6" width="5.22" height="5.22" fill="#000"/>
<rect x="526.75" y="469.57" width="5.22" height="5.22" fill="#000"/>
<rect x="536.83" y="465.68" width="5.22" height="5.22" fill="#000"/>
<rect x="546.91" y="462.65" width="5.22" height="5.22" fill="#000"/>
<rect x="556.99" y="459.62" width="5.22" height="5.22" fill="#000"/>
<rect x="567.07" y="455.73" width="5.22" height="5.22" fill="#000"/>
<rect x="577.15" y="451.83" width="5.22" height="5.22" fill="#000"/>
<rect x="587.23" y="447.94" width="5.22" height="5.22" fill="#000"/>
<rect x="597.31" y="443.61" width="5.22" height="5.22" fill="#000"/>
<rect x="607.39" y="440.15" width="5.22" height="5.22" fill="#000"/>
<rect x="617.47" y="436.68" width="5.22" height="5.22" fill="#000"/>
<rect x="627.55" y="432.79" width="5.22" height="5.22" fill="#000"/>
<rect x="637.63" y="428.9" width="5.22" height="5.22" fill="#000"/>
<path d="M408.4,478.25C410.08,477.96 415.12,477.42 418.48,476.51C421.84,475.61 425.2,473.44 428.56,472.79C431.92,472.14 435.28,472.72 438.64,472.62C442,472.52 445.36,472.33 448.72,472.19C452.08,472.04 455.44,471.97 458.8,471.75C462.16,471.54 465.52,471.83 468.88,470.89C472.24,469.95 475.6,468.11 478.96,466.13C482.32,464.14 485.68,461.37 489.04,458.99C492.4,456.61 495.76,454.62 499.12,451.85C502.48,449.07 505.84,445 509.2,442.33C512.56,439.66 515.92,438.29 519.28,435.84C522.64,433.38 526,430.5 529.36,427.61C532.72,424.73 536.08,421.48 539.44,418.53C542.8,415.57 546.16,412.76 549.52,409.87C552.88,406.99 556.24,404.03 559.6,401.22C562.96,398.4 566.32,395.73 569.68,392.99C573.04,390.25 576.4,387.51 579.76,384.77C583.12,382.03 586.48,379.29 589.84,376.55C593.2,373.81 596.56,371 599.92,368.33C603.28,365.66 606.64,362.92 610,360.54C613.36,358.16 616.72,356.35 620.08,354.05C623.44,351.74 626.8,348.42 630.16,346.69C633.52,344.96 638.56,344.16 640.24,343.66" fill="none" stroke="#f01212" stroke-width="0.9"/>
<circle cx="408.4" cy="478.25" r="3.13" fill="#f01212"/>
<circle cx="418.48" cy="476.51" r="3.13" fill="#f01212"/>
<circle cx="428.56" cy="472.79" r="3.13" fill="#f01212"/>
<circle cx="438.64" cy="472.62" r="3.13" fill="#f01212"/>
<circle cx="448.72" cy="472.19" r="3.13" fill="#f01212"/>
<circle cx="458.8" cy="471.75" r="3.13" fill="#f01212"/>
<circle cx="468.88" cy="470.89" r="3.13" fill="#f01212"/>
<circle cx="478.96" cy="466.13" r="3.13" fill="#f01212"/>
<circle cx="489.04" cy="458.99" r="3.13" fill="#f01212"/>
<circle cx="499.12" cy="451.85" r="3.13" fill="#f01212"/>
<circle cx="509.2" cy="442.33" r="3.13" fill="#f01212"/>
<circle cx="519.28" cy="435.84" r="3.13" fill="#f01212"/>
<circle cx="529.36" cy="427.61" r="3.13" fill="#f01212"/>
<circle cx="539.44" cy="418.53" r="3.13" fill="#f01212"/>
<circle cx="549.52" cy="409.87" r="3.13" fill="#f01212"/>
<circle cx="559.6" cy="401.22" r="3.13" fill="#f01212"/>
<circle cx="569.68" cy="392.99" r="3.13" fill="#f01212"/>
<circle cx="579.76" cy="384.77" r="3.13" fill="#f01212"/>
<circle cx="589.84" cy="376.55" r="3.13" fill="#f01212"/>
<circle cx="599.92" cy="368.33" r="3.13" fill="#f01212"/>
<circle cx="610" cy="360.54" r="3.13" fill="#f01212"/>
<circle cx="620.08" cy="354.05" r="3.13" fill="#f01212"/>
<circle cx="630.16" cy="346.69" r="3.13" fill="#f01212"/>
<circle cx="640.24" cy="343.66" r="3.13" fill="#f01212"/>
<path d="M408.4,478.25C410.08,478.25 415.12,478.25 418.48,478.25C421.84,478.25 425.2,478.25 428.56,478.25C431.92,478.25 435.28,478.25 438.64,478.25C442,478.25 445.36,478.17 448.72,478.25C452.08,478.32 455.44,478.46 458.8,478.68C462.16,478.89 465.52,479.4 468.88,479.54C472.24,479.69 475.6,479.54 478.96,479.54C482.32,479.54 485.68,479.76 489.04,479.54C492.4,479.33 495.76,478.97 499.12,478.25C502.48,477.52 505.84,476.23 509.2,475.22C512.56,474.21 515.92,473.56 519.28,472.19C522.64,470.82 526,468.58 529.36,466.99C532.72,465.41 536.08,464.11 539.44,462.67C542.8,461.22 546.16,459.78 549.52,458.34C552.88,456.9 556.24,455.6 559.6,454.01C562.96,452.42 566.32,450.4 569.68,448.82C573.04,447.23 576.4,446.01 579.76,444.49C583.12,442.98 586.48,441.32 589.84,439.73C593.2,438.14 596.56,436.48 599.92,434.97C603.28,433.46 606.64,432.01 610,430.64C613.36,429.27 616.72,428.19 620.08,426.75C623.44,425.31 626.8,422.93 630.16,421.99C633.52,421.05 638.56,421.27 640.24,421.12" fill="none" stroke="#1515e8" stroke-width="0.9"/>
<path d="M408.4,475.16L411.91,481.33L404.88,481.33Z" fill="#1515e8"/>
<path d="M418.48,475.16L421.99,481.33L414.96,481.33Z" fill="#1515e8"/>
<path d="M428.56,475.16L432.07,481.33L425.05,481.33Z" fill="#1515e8"/>
<path d="M438.64,475.16L442.15,481.33L435.12,481.33Z" fill="#1515e8"/>
<path d="M448.72,475.16L452.23,481.33L445.2,481.33Z" fill="#1515e8"/>
<path d="M458.8,475.59L462.31,481.77L455.28,481.77Z" fill="#1515e8"/>
<path d="M468.88,476.46L472.39,482.63L465.37,482.63Z" fill="#1515e8"/>
<path d="M478.96,476.46L482.47,482.63L475.44,482.63Z" fill="#1515e8"/>
<path d="M489.04,476.46L492.55,482.63L485.52,482.63Z" fill="#1515e8"/>
<path d="M499.12,475.16L502.63,481.33L495.61,481.33Z" fill="#1515e8"/>
<path d="M509.2,472.13L512.72,478.3L505.69,478.3Z" fill="#1515e8"/>
<path d="M519.28,469.1L522.79,475.27L515.76,475.27Z" fill="#1515e8"/>
<path d="M529.36,463.91L532.88,470.08L525.85,470.08Z" fill="#1515e8"/>
<path d="M539.44,459.58L542.96,465.75L535.93,465.75Z" fill="#1515e8"/>
<path d="M549.52,455.25L553.03,461.43L546,461.43Z" fill="#1515e8"/>
<path d="M559.6,450.92L563.12,457.1L556.09,457.1Z" fill="#1515e8"/>
<path d="M569.68,445.73L573.19,451.91L566.16,451.91Z" fill="#1515e8"/>
<path d="M579.76,441.4L583.27,447.58L576.25,447.58Z" fill="#1515e8"/>
<path d="M589.84,436.64L593.35,442.82L586.32,442.82Z" fill="#1515e8"/>
<path d="M599.92,431.88L603.43,438.06L596.4,438.06Z" fill="#1515e8"/>
<path d="M610,427.56L613.51,433.73L606.49,433.73Z" fill="#1515e8"/>
<path d="M620.08,423.66L623.59,429.84L616.56,429.84Z" fill="#1515e8"/>
<path d="M630.16,418.9L633.67,425.07L626.64,425.07Z" fill="#1515e8"/>
<path d="M640.24,418.03L643.75,424.21L636.73,424.21Z" fill="#1515e8"/>
<path d="M408.4,478.25C410.08,477.7 415.12,475.79 418.48,475C421.84,474.21 425.2,473.95 428.56,473.48C431.92,473.02 435.28,472.53 438.64,472.19C442,471.84 445.36,471.66 448.72,471.41C452.08,471.16 455.44,471.29 458.8,470.67C462.16,470.05 465.52,468.88 468.88,467.69C472.24,466.5 475.6,465.02 478.96,463.53C482.32,462.05 485.68,460.65 489.04,458.77C492.4,456.9 495.76,454.37 499.12,452.28C502.48,450.19 505.84,448.46 509.2,446.22C512.56,443.99 515.92,441.46 519.28,438.86C522.64,436.27 526,433.02 529.36,430.64C532.72,428.26 536.08,426.75 539.44,424.58C542.8,422.42 546.16,420.11 549.52,417.66C552.88,415.21 556.24,412.47 559.6,409.87C562.96,407.27 566.32,404.68 569.68,402.08C573.04,399.48 576.4,396.67 579.76,394.29C583.12,391.91 586.48,390.04 589.84,387.8C593.2,385.56 596.56,383.11 599.92,380.88C603.28,378.64 606.64,376.48 610,374.38C613.36,372.29 616.72,370.06 620.08,368.33C623.44,366.6 626.8,365.44 630.16,364C633.52,362.56 638.56,360.39 640.24,359.67" fill="none" stroke="#18781a" stroke-width="0.9"/>
<path d="M404.88,475.16L411.91,475.16L408.4,481.33Z" fill="#18781a"/>
<path d="M414.96,471.91L421.99,471.91L418.48,478.09Z" fill="#18781a"/>
<path d="M425.05,470.4L432.07,470.4L428.56,476.57Z" fill="#18781a"/>
<path d="M435.12,469.1L442.15,469.1L438.64,475.27Z" fill="#18781a"/>
<path d="M445.2,468.32L452.23,468.32L448.72,474.5Z" fill="#18781a"/>
<path d="M455.28,467.58L462.31,467.58L458.8,473.76Z" fill="#18781a"/>
<path d="M465.37,464.6L472.39,464.6L468.88,470.77Z" fill="#18781a"/>
<path d="M475.44,460.44L482.47,460.44L478.96,466.62Z" fill="#18781a"/>
<path d="M485.52,455.68L492.55,455.68L489.04,461.86Z" fill="#18781a"/>
<path d="M495.61,449.19L502.63,449.19L499.12,455.37Z" fill="#18781a"/>
<path d="M505.69,443.13L512.72,443.13L509.2,449.31Z" fill="#18781a"/>
<path d="M515.76,435.78L522.79,435.78L519.28,441.95Z" fill="#18781a"/>
<path d="M525.85,427.56L532.88,427.56L529.36,433.73Z" fill="#18781a"/>
<path d="M535.93,421.5L542.96,421.5L539.44,427.67Z" fill="#18781a"/>
<path d="M546,414.57L553.03,414.57L549.52,420.75Z" fill="#18781a"/>
<path d="M556.09,406.78L563.12,406.78L559.6,412.96Z" fill="#18781a"/>
<path d="M566.16,398.99L573.19,398.99L569.68,405.17Z" fill="#18781a"/>
<path d="M576.25,391.2L583.27,391.2L579.76,397.38Z" fill="#18781a"/>
<path d="M586.32,384.71L593.35,384.71L589.84,390.89Z" fill="#18781a"/>
<path d="M596.4,377.79L603.43,377.79L599.92,383.96Z" fill="#18781a"/>
<path d="M606.49,371.3L613.51,371.3L610,377.47Z" fill="#18781a"/>
<path d="M616.56,365.24L623.59,365.24L620.08,371.41Z" fill="#18781a"/>
<path d="M626.64,360.91L633.67,360.91L630.16,367.09Z" fill="#18781a"/>
<path d="M636.73,356.58L643.75,356.58L640.24,362.76Z" fill="#18781a"/>
<path d="M408.4,478.25C410.08,478.17 415.12,477.96 418.48,477.81C421.84,477.67 425.2,477.6 428.56,477.38C431.92,477.16 435.28,476.73 438.64,476.51C442,476.3 445.36,476.23 448.72,476.08C452.08,475.94 455.44,475.83 458.8,475.65C462.16,475.47 465.52,475.22 468.88,475C472.24,474.78 475.6,474.6 478.96,474.35C482.32,474.1 485.68,473.85 489.04,473.48C492.4,473.12 495.76,472.55 499.12,472.19C502.48,471.83 505.84,471.61 509.2,471.32C512.56,471.03 515.92,470.82 519.28,470.46C522.64,470.09 526,469.66 529.36,469.16C532.72,468.65 536.08,468.08 539.44,467.43C542.8,466.78 546.16,465.91 549.52,465.26C552.88,464.61 556.24,463.96 559.6,463.53C562.96,463.1 566.32,463.03 569.68,462.67C573.04,462.31 576.4,461.8 579.76,461.37C583.12,460.94 586.48,460.57 589.84,460.07C593.2,459.56 596.56,458.84 599.92,458.34C603.28,457.83 606.64,457.55 610,457.04C613.36,456.54 616.72,455.81 620.08,455.31C623.44,454.8 626.8,454.44 630.16,454.01C633.52,453.58 638.56,452.93 640.24,452.71" fill="none" stroke="#e23b3b" stroke-width="0.9" stroke-dasharray="1 2"/>
<circle cx="408.4" cy="478.25" r="2.56" fill="#fff" stroke="#e23b3b" stroke-width="0.8"/>
<circle cx="418.48" cy="477.81" r="2.56" fill="#fff" stroke="#e23b3b" stroke-width="0.8"/>
<circle cx="428.56" cy="477.38" r="2.56" fill="#fff" stroke="#e23b3b" stroke-width="0.8"/>
<circle cx="438.64" cy="476.51" r="2.56" fill="#fff" stroke="#e23b3b" stroke-width="0.8"/>
<circle cx="448.72" cy="476.08" r="2.56" fill="#fff" stroke="#e23b3b" stroke-width="0.8"/>
<circle cx="458.8" cy="475.65" r="2.56" fill="#fff" stroke="#e23b3b" stroke-width="0.8"/>
<circle cx="468.88" cy="475" r="2.56" fill="#fff" stroke="#e23b3b" stroke-width="0.8"/>
<circle cx="478.96" cy="474.35" r="2.56" fill="#fff" stroke="#e23b3b" stroke-width="0.8"/>
<circle cx="489.04" cy="473.48" r="2.56" fill="#fff" stroke="#e23b3b" stroke-width="0.8"/>
<circle cx="499.12" cy="472.19" r="2.56" fill="#fff" stroke="#e23b3b" stroke-width="0.8"/>
<circle cx="509.2" cy="471.32" r="2.56" fill="#fff" stroke="#e23b3b" stroke-width="0.8"/>
<circle cx="519.28" cy="470.46" r="2.56" fill="#fff" stroke="#e23b3b" stroke-width="0.8"/>
<circle cx="529.36" cy="469.16" r="2.56" fill="#fff" stroke="#e23b3b" stroke-width="0.8"/>
<circle cx="539.44" cy="467.43" r="2.56" fill="#fff" stroke="#e23b3b" stroke-width="0.8"/>
<circle cx="549.52" cy="465.26" r="2.56" fill="#fff" stroke="#e23b3b" stroke-width="0.8"/>
<circle cx="559.6" cy="463.53" r="2.56" fill="#fff" stroke="#e23b3b" stroke-width="0.8"/>
<circle cx="569.68" cy="462.67" r="2.56" fill="#fff" stroke="#e23b3b" stroke-width="0.8"/>
<circle cx="579.76" cy="461.37" r="2.56" fill="#fff" stroke="#e23b3b" stroke-width="0.8"/>
<circle cx="589.84" cy="460.07" r="2.56" fill="#fff" stroke="#e23b3b" stroke-width="0.8"/>
<circle cx="599.92" cy="458.34" r="2.56" fill="#fff" stroke="#e23b3b" stroke-width="0.8"/>
<circle cx="610" cy="457.04" r="2.56" fill="#fff" stroke="#e23b3b" stroke-width="0.8"/>
<circle cx="620.08" cy="455.31" r="2.56" fill="#fff" stroke="#e23b3b" stroke-width="0.8"/>
<circle cx="630.16" cy="454.01" r="2.56" fill="#fff" stroke="#e23b3b" stroke-width="0.8"/>
<circle cx="640.24" cy="452.71" r="2.56" fill="#fff" stroke="#e23b3b" stroke-width="0.8"/>
<path d="M408.4,478.25C410.08,478.25 415.12,478.25 418.48,478.25C421.84,478.25 425.2,478.25 428.56,478.25C431.92,478.25 435.28,478.25 438.64,478.25C442,478.25 445.36,478.25 448.72,478.25C452.08,478.25 455.44,478.25 458.8,478.25C462.16,478.25 465.52,478.25 468.88,478.25C472.24,478.25 475.6,478.32 478.96,478.25C482.32,478.17 485.68,477.96 489.04,477.81C492.4,477.67 495.76,477.52 499.12,477.38C502.48,477.24 505.84,477.09 509.2,476.95C512.56,476.8 515.92,476.66 519.28,476.51C522.64,476.37 526,476.3 529.36,476.08C532.72,475.86 536.08,475.5 539.44,475.22C542.8,474.93 546.16,474.57 549.52,474.35C552.88,474.13 556.24,473.99 559.6,473.92C562.96,473.85 566.32,474.06 569.68,473.92C573.04,473.77 576.4,473.2 579.76,473.05C583.12,472.91 586.48,473.05 589.84,473.05C593.2,473.05 596.56,473.12 599.92,473.05C603.28,472.98 606.64,472.76 610,472.62C613.36,472.47 616.72,472.26 620.08,472.19C623.44,472.11 626.8,472.19 630.16,472.19C633.52,472.19 638.56,472.19 640.24,472.19" fill="none" stroke="#3f9a3f" stroke-width="0.9" stroke-dasharray="1 2"/>
<rect x="406.02" y="475.87" width="4.75" height="4.75" fill="#fff" stroke="#3f9a3f" stroke-width="0.8"/>
<rect x="416.1" y="475.87" width="4.75" height="4.75" fill="#fff" stroke="#3f9a3f" stroke-width="0.8"/>
<rect x="426.19" y="475.87" width="4.75" height="4.75" fill="#fff" stroke="#3f9a3f" stroke-width="0.8"/>
<rect x="436.26" y="475.87" width="4.75" height="4.75" fill="#fff" stroke="#3f9a3f" stroke-width="0.8"/>
<rect x="446.34" y="475.87" width="4.75" height="4.75" fill="#fff" stroke="#3f9a3f" stroke-width="0.8"/>
<rect x="456.42" y="475.87" width="4.75" height="4.75" fill="#fff" stroke="#3f9a3f" stroke-width="0.8"/>
<rect x="466.5" y="475.87" width="4.75" height="4.75" fill="#fff" stroke="#3f9a3f" stroke-width="0.8"/>
<rect x="476.58" y="475.87" width="4.75" height="4.75" fill="#fff" stroke="#3f9a3f" stroke-width="0.8"/>
<rect x="486.66" y="475.44" width="4.75" height="4.75" fill="#fff" stroke="#3f9a3f" stroke-width="0.8"/>
<rect x="496.75" y="475" width="4.75" height="4.75" fill="#fff" stroke="#3f9a3f" stroke-width="0.8"/>
<rect x="506.82" y="474.57" width="4.75" height="4.75" fill="#fff" stroke="#3f9a3f" stroke-width="0.8"/>
<rect x="516.9" y="474.14" width="4.75" height="4.75" fill="#fff" stroke="#3f9a3f" stroke-width="0.8"/>
<rect x="526.99" y="473.71" width="4.75" height="4.75" fill="#fff" stroke="#3f9a3f" stroke-width="0.8"/>
<rect x="537.07" y="472.84" width="4.75" height="4.75" fill="#fff" stroke="#3f9a3f" stroke-width="0.8"/>
<rect x="547.14" y="471.98" width="4.75" height="4.75" fill="#fff" stroke="#3f9a3f" stroke-width="0.8"/>
<rect x="557.23" y="471.54" width="4.75" height="4.75" fill="#fff" stroke="#3f9a3f" stroke-width="0.8"/>
<rect x="567.3" y="471.54" width="4.75" height="4.75" fill="#fff" stroke="#3f9a3f" stroke-width="0.8"/>
<rect x="577.38" y="470.68" width="4.75" height="4.75" fill="#fff" stroke="#3f9a3f" stroke-width="0.8"/>
<rect x="587.46" y="470.68" width="4.75" height="4.75" fill="#fff" stroke="#3f9a3f" stroke-width="0.8"/>
<rect x="597.54" y="470.68" width="4.75" height="4.75" fill="#fff" stroke="#3f9a3f" stroke-width="0.8"/>
<rect x="607.62" y="470.24" width="4.75" height="4.75" fill="#fff" stroke="#3f9a3f" stroke-width="0.8"/>
<rect x="617.7" y="469.81" width="4.75" height="4.75" fill="#fff" stroke="#3f9a3f" stroke-width="0.8"/>
<rect x="627.78" y="469.81" width="4.75" height="4.75" fill="#fff" stroke="#3f9a3f" stroke-width="0.8"/>
<rect x="637.87" y="469.81" width="4.75" height="4.75" fill="#fff" stroke="#3f9a3f" stroke-width="0.8"/>
<rect x="411.39" y="298.49" width="5.22" height="5.22" fill="#000"/>
<text x="424.2" y="304.5" font-size="9.6" font-weight="bold" font-family='"Liberation Sans", sans-serif' text-anchor="start" fill="#000" >Lyso(R)</text>
<circle cx="414" cy="311.9" r="3.13" fill="#f01212"/>
<text x="427.1" y="315.3" font-size="9.6" font-weight="bold" font-family='"Liberation Sans", sans-serif' text-anchor="start" fill="#000" >Lyso(R) + 70S</text>
<path d="M414,319.81L417.51,325.99L410.49,325.99Z" fill="#1515e8"/>
<text x="427.1" y="326.3" font-size="9.6" font-weight="bold" font-family='"Liberation Sans", sans-serif' text-anchor="start" fill="#000" >Lyso(R) + mRNA</text>
<path d="M410.49,331.21L417.51,331.21L414,337.39Z" fill="#18781a"/>
<text x="427.1" y="337.7" font-size="9.6" font-weight="bold" font-family='"Liberation Sans", sans-serif' text-anchor="start" fill="#000" >Lyso(R) + 70S + mRNA</text>
<circle cx="414" cy="345.6" r="2.56" fill="#fff" stroke="#e23b3b" stroke-width="0.8"/>
<text x="427.1" y="349" font-size="9.6" font-weight="bold" font-family='"Liberation Sans", sans-serif' text-anchor="start" fill="#000" >Lyso(R) + 70S + mRNA+ 5 <tspan font-weight="normal">&#956;</tspan>MtRNA</text>
<rect x="411.62" y="354.62" width="4.75" height="4.75" fill="#fff" stroke="#3f9a3f" stroke-width="0.8"/>
<text x="427.1" y="360.4" font-size="9.6" font-weight="bold" font-family='"Liberation Sans", sans-serif' text-anchor="start" fill="#000" >Lyso(R) + 70S + mRNA+ 10 <tspan font-weight="normal">&#956;</tspan>MtRNA</text>
</svg>
</body></html>
